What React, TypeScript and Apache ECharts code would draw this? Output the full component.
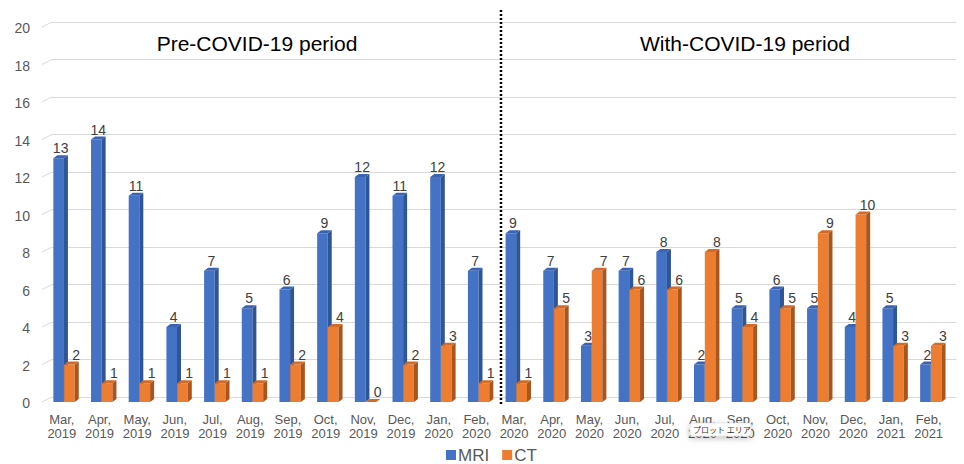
import React, { useEffect, useRef } from "react";
import * as echarts from "echarts";

const categories = [
  "Mar,\n2019", "Apr,\n2019", "May,\n2019", "Jun,\n2019", "Jul,\n2019", "Aug,\n2019",
  "Sep,\n2019", "Oct,\n2019", "Nov,\n2019", "Dec,\n2019", "Jan,\n2020", "Feb,\n2020",
  "Mar,\n2020", "Apr,\n2020", "May,\n2020", "Jun,\n2020", "Jul,\n2020", "Aug,\n2020",
  "Sep,\n2020", "Oct,\n2020", "Nov,\n2020", "Dec,\n2020", "Jan,\n2021", "Feb,\n2021",
];
const mriValues = [13, 14, 11, 4, 7, 5, 6, 9, 12, 11, 12, 7, 9, 7, 3, 7, 8, 2, 5, 6, 5, 4, 5, 2];
const ctValues = [2, 1, 1, 1, 1, 1, 2, 4, 0, 2, 3, 1, 1, 5, 7, 6, 6, 8, 4, 5, 9, 10, 3, 3];
const yTicks = [0, 2, 4, 6, 8, 10, 12, 14, 16, 18, 20];
const periodTitles = ["Pre-COVID-19 period", "With-COVID-19 period"];
const seriesNames = ["MRI", "CT"];
const popupText = "プロット エリア";

const FONT = "'Liberation Sans', Arial, Helvetica, sans-serif";

function make3DBar(slot: number, front: string, side: string, topC: string) {
  return (params: any, api: any) => {
    const i = api.value(0);
    const v = api.value(1);
    const pTop = api.coord([i, v]);
    const pBase = api.coord([i, 0]);
    const w = 10.6;
    const dx = 4;
    const dy = 3;
    const x = pTop[0] - 17.5 + slot * 10.8;
    const yT = pTop[1] + 5;
    const yB = pBase[1] + 5;
    const labelX = x + (slot === 0 ? 7.3 : 12);
    return {
      type: "group",
      children: [
        { type: "rect", shape: { x, y: yT, width: w, height: yB - yT }, style: { fill: front } },
        {
          type: "polygon",
          shape: { points: [[x + w, yT], [x + w + dx, yT - dy], [x + w + dx, yB - dy], [x + w, yB]] },
          style: { fill: side },
        },
        {
          type: "polygon",
          shape: { points: [[x, yT], [x + w, yT], [x + w + dx, yT - dy], [x + dx, yT - dy]] },
          style: { fill: topC },
        },
        {
          type: "text",
          x: labelX,
          y: yT - 3,
          style: {
            text: String(v),
            fill: "#404040",
            fontSize: 14,
            fontFamily: FONT,
            align: "center",
            verticalAlign: "bottom",
          },
        },
      ],
    };
  };
}

export default function App() {
  const ref = useRef<HTMLDivElement>(null);
  useEffect(() => {
    if (!ref.current) return;
    const chart = echarts.init(ref.current, undefined, { renderer: "svg" });
    chart.setOption({
      animation: false,
      backgroundColor: "#ffffff",
      grid: { left: 52, right: 3, top: 22, bottom: 67, containLabel: false },
      legend: {
        data: [
          { name: seriesNames[0], icon: "rect" },
          { name: seriesNames[1], icon: "rect" },
        ],
        left: 446,
        top: 446,
        padding: 0,
        itemWidth: 10,
        itemHeight: 10,
        itemGap: 13,
        textStyle: { fontSize: 17, lineHeight: 18, color: "#595959", fontFamily: FONT, padding: [0, 0, 0, -3] },
      },
      xAxis: {
        type: "category",
        data: categories,
        boundaryGap: true,
        axisLine: { show: false },
        axisTick: { show: false },
        axisLabel: {
          interval: 0,
          fontSize: 13,
          lineHeight: 14,
          color: "#595959",
          fontFamily: FONT,
          margin: 15,
          padding: [0, 18, 0, 0],
        },
      },
      yAxis: {
        type: "value",
        min: yTicks[0],
        max: yTicks[yTicks.length - 1],
        interval: yTicks[1] - yTicks[0],
        axisLine: { show: false },
        axisTick: { show: false },
        axisLabel: {
          fontSize: 14,
          lineHeight: 12,
          verticalAlign: "top",
          color: "#595959",
          fontFamily: FONT,
          margin: 22,
        },
        splitLine: { lineStyle: { color: "#d9d9d9", width: 1 } },
      },
      series: [
        {
          name: "floor",
          type: "custom",
          silent: true,
          data: yTicks.map((v) => [0, v]),
          renderItem: (params: any, api: any) => {
            const p = api.coord([0, api.value(1)]);
            const left = params.coordSys.x;
            return {
              type: "line",
              shape: { x1: left, y1: p[1], x2: left - 10, y2: p[1] + 5 },
              style: { stroke: "#d9d9d9", lineWidth: 1 },
            };
          },
          z: 1,
        },
        {
          name: seriesNames[0],
          type: "custom",
          itemStyle: { color: "#4472C4" },
          data: mriValues.map((v, i) => [i, v]),
          encode: { x: 0, y: 1 },
          renderItem: make3DBar(0, "#4472C4", "#2F5597", "#3A63B0"),
          z: 2,
        },
        {
          name: seriesNames[1],
          type: "custom",
          itemStyle: { color: "#ED7D31" },
          data: ctValues.map((v, i) => [i, v]),
          encode: { x: 0, y: 1 },
          renderItem: make3DBar(1, "#ED7D31", "#A9561E", "#D16B27"),
          z: 3,
        },
      ],
      graphic: [
        {
          type: "line",
          z: 10,
          shape: { x1: 501, y1: 10, x2: 501, y2: 405 },
          style: { stroke: "#000000", lineWidth: 2.5, lineDash: [2, 2] },
        },
        {
          type: "text",
          x: 257,
          y: 43,
          style: {
            text: periodTitles[0],
            fontSize: 21,
            fontFamily: FONT,
            fill: "#000000",
            align: "center",
            verticalAlign: "middle",
          },
        },
        {
          type: "text",
          x: 745,
          y: 43,
          style: {
            text: periodTitles[1],
            fontSize: 21,
            fontFamily: FONT,
            fill: "#000000",
            align: "center",
            verticalAlign: "middle",
          },
        },
        {
          type: "rect",
          z: 50,
          shape: { x: 690, y: 423, width: 61, height: 13, r: 2 },
          style: {
            fill: "#ffffff",
            stroke: "#cccccc",
            lineWidth: 0.5,
            shadowBlur: 6,
            shadowOffsetY: 2,
            shadowColor: "rgba(0,0,0,0.25)",
          },
        },
        {
          type: "text",
          z: 51,
          x: 693,
          y: 429.5,
          style: {
            text: popupText,
            fontSize: 8,
            fontFamily: "'Noto Sans CJK JP', sans-serif",
            fill: "#333333",
            align: "left",
            verticalAlign: "middle",
          },
        },
      ],
    });
    return () => chart.dispose();
  }, []);
  return (
    <div
      ref={ref}
      style={{ position: "fixed", left: 0, top: 0, width: 964, height: 464, background: "#fff" }}
    />
  );
}
